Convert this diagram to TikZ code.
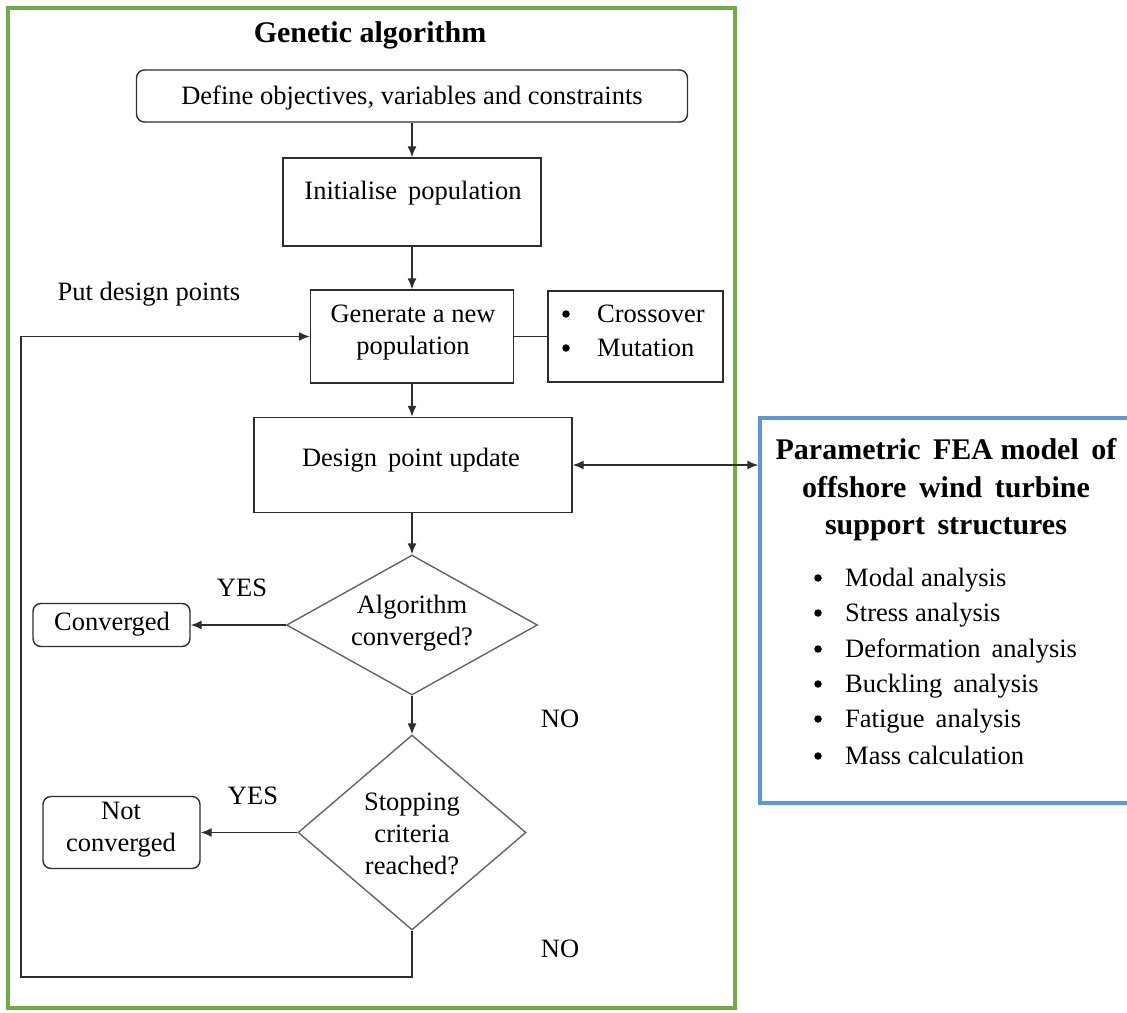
\documentclass[tikz,border=0pt]{standalone}
\usepackage{fontspec}
\setmainfont{Liberation Serif}
\usetikzlibrary{shapes.geometric,arrows.meta}
\definecolor{gagreen}{RGB}{112,173,71}
\definecolor{feablue}{RGB}{91,155,213}
\definecolor{edgec}{RGB}{45,45,45}
\definecolor{diac}{RGB}{100,100,100}
\begin{document}
\begin{tikzpicture}[x=1pt,y=-1pt,
  box/.style={draw=edgec, line width=1.4pt, inner sep=0pt},
  rbox/.style={box, rounded corners=8pt},
  dia/.style={diamond, draw=diac, line width=1.4pt, inner sep=0pt},
  txt/.style={font=\fontsize{26.5}{32}\selectfont, align=center, inner sep=0pt},
  ltxt/.style={font=\fontsize{26.5}{32}\selectfont, anchor=base west, inner sep=0pt},
  bul/.style={circle, fill=black, minimum size=7.5pt, inner sep=0pt},
  btxt/.style={font=\fontsize{30}{37.5}\selectfont\bfseries, align=center, inner sep=0pt},
  arr/.style={draw=edgec, line width=1.4pt, -{Latex[length=11pt,width=9pt]}},
  darr/.style={draw=edgec, line width=1.4pt, {Latex[length=11pt,width=9pt]}-{Latex[length=11pt,width=9pt]}},
  ln/.style={draw=edgec, line width=1.4pt}]
\useasboundingbox (0,0) rectangle (1127,1012);
% frames
\node[draw=gagreen, line width=3.5pt, minimum width=727pt, minimum height=1000pt, inner sep=0pt] (ga) at (371.5,508) {};
\node[draw=feablue, line width=3.5pt, minimum width=372pt, minimum height=385pt, inner sep=0pt] (fea) at (946,610.5) {};
% title
\node[btxt] (title) at (370,35) {Genetic algorithm};
% boxes
\node[rbox, minimum width=551pt, minimum height=52pt] (def) at (412,96) {};
\node[txt] (deft) at (412,98) {Define objectives, variables and constraints};
\node[box, minimum width=258pt, minimum height=88pt] (init) at (412,202) {};
\node[txt] (initt) at (413,193) {Initialise\, population};
\node[box, minimum width=203pt, minimum height=93pt] (gen) at (412,336.5) {};
\node[txt] (gent) at (413,333) {Generate a new\\population};
\node[box, minimum width=175pt, minimum height=91pt] (cross) at (635.5,336.5) {};
\node[bul] (b1) at (566,314) {};
\node[ltxt] (c1) at (597,322) {Crossover};
\node[bul] (b2) at (566,348) {};
\node[ltxt] (c2) at (597,356) {Mutation};
\node[txt] (put) at (149,294) {Put design points};
\node[box, minimum width=318pt, minimum height=95pt] (upd) at (413,465) {};
\node[txt] (updt) at (411,460) {Design\, point update};
% diamonds
\node[dia, minimum width=251pt, minimum height=140pt] (d1) at (412,625) {};
\node[txt] (d1t) at (412,623) {Algorithm\\converged?};
\node[dia, minimum width=228pt, minimum height=195pt] (d2) at (412,832.5) {};
\node[txt] (d2t) at (412,833.5) {Stopping\\criteria\\reached?};
% outcome boxes
\node[rbox, minimum width=157pt, minimum height=43pt] (conv) at (111.5,625) {};
\node[txt] (convt) at (112,624) {Converged};
\node[rbox, minimum width=157pt, minimum height=72pt] (nconv) at (121.5,832.5) {};
\node[txt] (nconvt) at (121,830) {Not\\converged};
% labels
\node[txt] (yes1) at (242,588) {YES};
\node[txt] (no1) at (560,719) {NO};
\node[txt] (yes2) at (253,796) {YES};
\node[txt] (no2) at (560,949) {NO};
% FEA text
\node[btxt] (feat) at (946,490) {Parametric\, FEA model\, of\\offshore\, wind\, turbine\\support\, structures};
\node[bul] (fb1) at (818,578) {};
\node[ltxt] (f1) at (845,586) {Modal analysis};
\node[bul] (fb2) at (818,613) {};
\node[ltxt] (f2) at (845,621) {Stress analysis};
\node[bul] (fb3) at (818,649) {};
\node[ltxt] (f3) at (845,657) {Deformation\, analysis};
\node[bul] (fb4) at (818,684) {};
\node[ltxt] (f4) at (845,692) {Buckling\, analysis};
\node[bul] (fb5) at (818,719) {};
\node[ltxt] (f5) at (845,727) {Fatigue\, analysis};
\node[bul] (fb6) at (818,756) {};
\node[ltxt] (f6) at (845,764) {Mass calculation};
% connectors
\draw[arr] (def.south) -- (init.north);
\draw[arr] (init.south) -- (gen.north);
\draw[arr] (gen.south) -- (gen.south |- upd.north);
\draw[ln] (gen.east) -- (cross.west);
\draw[arr] (upd.south -| d1.north) -- (d1.north);
\draw[arr] (d1.south) -- (d2.north);
\draw[arr] (d1.west) -- (conv.east);
\draw[arr] (d2.west) -- (nconv.east);
\draw[darr] (upd.east) -- (upd.east -| fea.west);
\coordinate (lb) at (21,977);
\draw[arr] (d2.south) |- (lb) |- (gen.west);
\end{tikzpicture}
\end{document}
